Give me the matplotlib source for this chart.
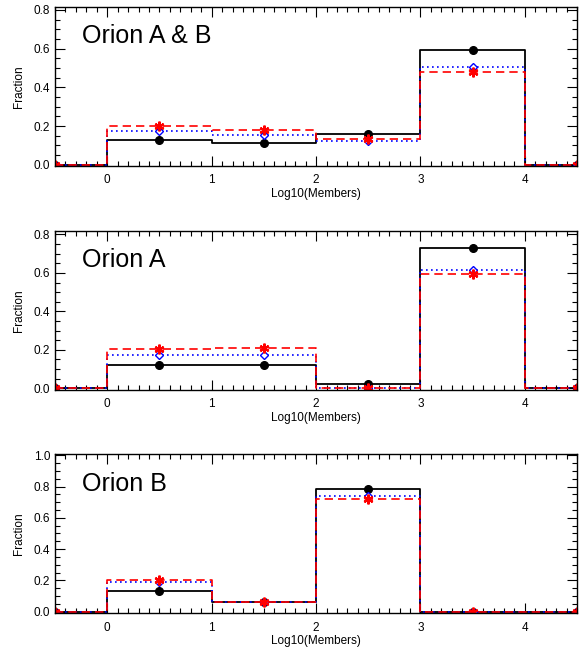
import matplotlib
matplotlib.use("Agg")
import matplotlib.pyplot as plt
from matplotlib.ticker import MultipleLocator

plt.rcParams["font.family"] = ["Liberation Sans", "DejaVu Sans"]

# bin centres in log10(members); edge bins are empty
centers = [-0.5, 0.5, 1.5, 2.5, 3.5, 4.5]

titles = ["Orion A & B", "Orion A", "Orion B"]

black_ab = [0.0, 0.127, 0.113, 0.157, 0.595, 0.0]
blue_ab = [0.0, 0.177, 0.155, 0.124, 0.507, 0.0]
red_ab = [0.0, 0.203, 0.180, 0.132, 0.477, 0.0]

black_a = [0.0, 0.122, 0.122, 0.021, 0.729, 0.0]
blue_a = [0.0, 0.172, 0.174, 0.0, 0.616, 0.0]
red_a = [0.0, 0.205, 0.209, 0.0, 0.592, 0.0]

black_b = [0.0, 0.135, 0.060, 0.783, 0.0, 0.0]
blue_b = [0.0, 0.190, 0.060, 0.738, 0.0, 0.0]
red_b = [0.0, 0.200, 0.060, 0.718, 0.0, 0.0]

panels = [
    (black_ab, blue_ab, red_ab, (-0.007, 0.814)),
    (black_a, blue_a, red_a, (-0.009, 0.817)),
    (black_b, blue_b, red_b, (-0.010, 1.005)),
]

fig = plt.figure(figsize=(5.84, 6.49), dpi=100)
bottoms = [0.744, 0.399, 0.055]

for i, (blk, blu, red, ylim) in enumerate(panels):
    ax = fig.add_axes([0.0942, bottoms[i], 0.894, 0.2448])

    ax.step(centers, blk, where="mid", color="black", lw=1.3)
    ax.plot(centers, blk, "o", color="black", ms=5.5)

    ax.step(centers, blu, where="mid", color="blue", lw=1.2, ls=(0, (1, 2)))
    ax.plot(centers, blu, "D", mfc="white", mec="blue", mew=1.0, ms=4.5)

    ax.step(centers, red, where="mid", color="red", lw=1.2, ls=(0, (5, 3)))
    ax.plot(centers, red, ls="none", marker=(6, 2, 0), color="red",
            mew=1.6, ms=7)

    ax.set_xlim(-0.5, 4.5)
    ax.set_ylim(*ylim)
    ax.xaxis.set_major_locator(MultipleLocator(1))
    ax.xaxis.set_minor_locator(MultipleLocator(0.1))
    ax.yaxis.set_major_locator(MultipleLocator(0.2))
    ax.yaxis.set_minor_locator(MultipleLocator(0.05))
    ax.yaxis.set_major_formatter(matplotlib.ticker.FormatStrFormatter("%.1f"))
    ax.tick_params(which="both", direction="in", top=True, right=True,
                   labelsize=8.5, width=0.8)
    ax.tick_params(which="major", length=7)
    ax.tick_params(which="minor", length=3.5)
    ax.tick_params(axis="x", pad=6)
    for sp in ax.spines.values():
        sp.set_linewidth(1.0)

    ax.set_xlabel("Log10(Members)", fontsize=8.5, labelpad=1)
    ax.set_ylabel("Fraction", fontsize=8.5, labelpad=6)
    ax.text(0.052, 0.772, titles[i], transform=ax.transAxes,
            fontsize=18, va="baseline", ha="left")

fig.savefig("out.png", dpi=100)
